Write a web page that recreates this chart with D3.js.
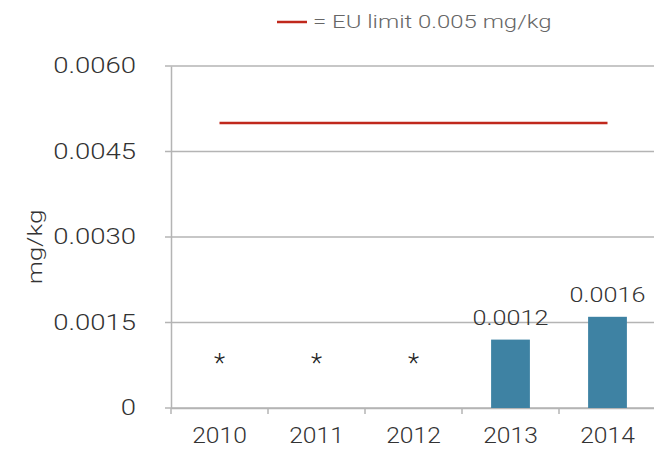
<!DOCTYPE html>
<html>
<head>
<meta charset="utf-8">
<script src="https://cdn.jsdelivr.net/npm/d3@7"></script>
<style>
  body { margin: 0; background: #fff; }
  text { font-family: Roboto, "Liberation Sans", Arial, sans-serif; font-weight: 300; }
</style>
</head>
<body>
<svg id="canvas" width="654" height="450"></svg>
<script>
let years = ['2010', '2011', '2012', '2013', '2014']
let values = [null, null, null, 0.0012, 0.0016]   // null = not detected (*)
let yTicks = [0, 0.0015, 0.0030, 0.0045, 0.0060]
let euLimit = 0.005
let legendText = '= EU limit 0.005 mg/kg'
let yTitle = 'mg/kg'

let canvas = d3.select('#canvas')

let plotLeft = 171, plotRight = 656, plotTop = 66, plotBottom = 408

let x = d3.scaleBand().domain(years).range([plotLeft, plotRight])
let xBar = d3.scaleBand().domain(years).range([plotLeft, plotRight]).paddingInner(0.6).paddingOuter(0.3)
let y = d3.scaleLinear().domain([0, 0.006]).range([plotBottom, plotTop])

// gridlines
canvas.selectAll('.grid')
    .data(yTicks)
    .enter()
    .append('line')
    .attr('x1', plotLeft - 6)
    .attr('x2', plotRight)
    .attr('y1', d => y(d))
    .attr('y2', d => y(d))
    .attr('stroke', '#b4b4b4')
    .attr('stroke-width', 1.5)

// y axis
let yAxis = canvas.append('g')
    .attr('transform', `translate(${plotLeft},0)`)
    .call(d3.axisLeft(y).tickValues(yTicks).tickSize(0).tickPadding(0)
        .tickFormat(d => d === 0 ? '0' : d3.format('.4f')(d)))
yAxis.select('.domain').attr('stroke', '#b4b4b4').attr('stroke-width', 1.5)
yAxis.selectAll('text')
    .attr('font-size', 22)
    .attr('fill', '#333')
    .attr('x', -35 / 1.25)
    .attr('dy', '0.3em')
    .attr('transform', 'scale(1.25,1)')
    .style('font-family', 'Roboto, "Liberation Sans", Arial, sans-serif')

// x axis
let xAxis = canvas.append('g')
    .attr('transform', `translate(0,${plotBottom})`)
    .call(d3.axisBottom(x).tickSize(0).tickPadding(0))
xAxis.select('.domain').attr('stroke', '#b4b4b4').attr('stroke-width', 1.5)
xAxis.selectAll('.tick text')
    .attr('font-size', 22)
    .attr('fill', '#333')
    .attr('y', 35)
    .attr('dy', 0)
    .attr('transform', 'scale(1.12,1)')
    .style('font-family', 'Roboto, "Liberation Sans", Arial, sans-serif')

// tick marks between categories
canvas.selectAll('.xtick')
    .data(years)
    .enter()
    .append('line')
    .attr('x1', d => x(d))
    .attr('x2', d => x(d))
    .attr('y1', plotBottom)
    .attr('y2', plotBottom + 6)
    .attr('stroke', '#b4b4b4')
    .attr('stroke-width', 1.5)

// bars
canvas.selectAll('.bar')
    .data(years.filter((d, i) => values[i] !== null))
    .enter()
    .append('rect')
    .attr('x', d => xBar(d))
    .attr('width', xBar.bandwidth())
    .attr('y', d => y(values[years.indexOf(d)]))
    .attr('height', d => plotBottom - y(values[years.indexOf(d)]))
    .attr('fill', '#3e82a3')

// value labels
canvas.selectAll('.val')
    .data(years.filter((d, i) => values[i] !== null))
    .enter()
    .append('g')
    .attr('transform', d => `translate(${x(d) + x.bandwidth() / 2},${y(values[years.indexOf(d)]) - 15}) scale(1.2,1)`)
    .append('text')
    .attr('text-anchor', 'middle')
    .attr('font-size', 21)
    .attr('fill', '#333')
    .text(d => d3.format('.4f')(values[years.indexOf(d)]))

// not detected markers
canvas.selectAll('.nd')
    .data(years.filter((d, i) => values[i] === null))
    .enter()
    .append('text')
    .attr('x', d => x(d) + x.bandwidth() / 2)
    .attr('y', 372)
    .attr('text-anchor', 'middle')
    .attr('font-size', 26)
    .attr('fill', '#222')
    .text('*')

// EU limit line
canvas.append('line')
    .attr('x1', x(years[0]) + x.bandwidth() / 2)
    .attr('x2', x(years[years.length - 1]) + x.bandwidth() / 2)
    .attr('y1', y(euLimit))
    .attr('y2', y(euLimit))
    .attr('stroke', '#c0281c')
    .attr('stroke-width', 2.5)

// legend
canvas.append('line')
    .attr('x1', 277).attr('x2', 307)
    .attr('y1', 22).attr('y2', 22)
    .attr('stroke', '#c0281c')
    .attr('stroke-width', 2.5)
canvas.append('g')
    .attr('transform', 'translate(313,28) scale(1.33,1)')
    .append('text')
    .attr('font-size', 18)
    .attr('fill', '#666')
    .text(legendText)

// y title
canvas.append('g')
    .attr('transform', 'translate(42,247) rotate(-90) scale(1.3,1)')
    .append('text')
    .attr('text-anchor', 'middle')
    .attr('font-size', 20)
    .attr('fill', '#333')
    .text(yTitle)
</script>
</body>
</html>
